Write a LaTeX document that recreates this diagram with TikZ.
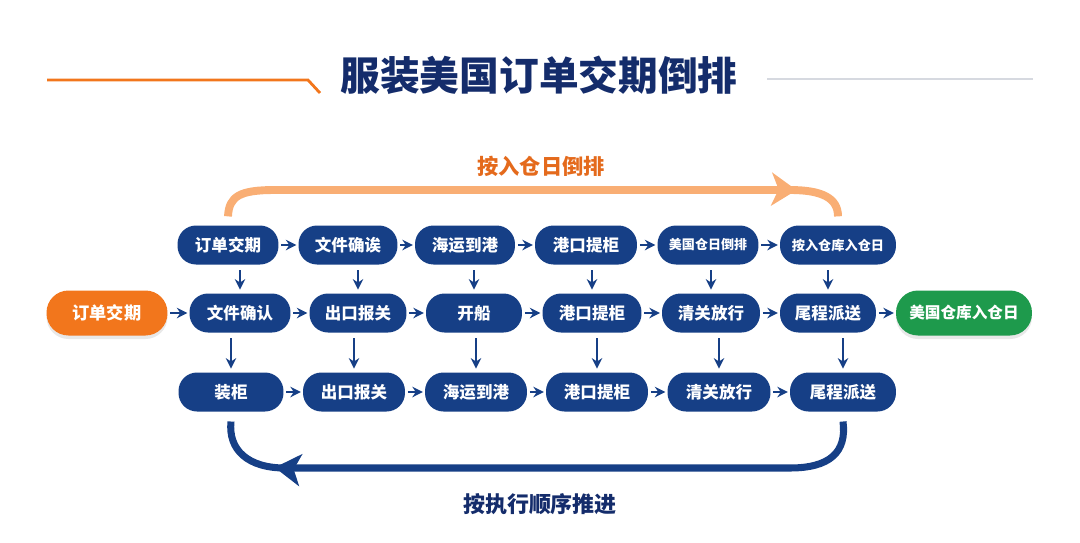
\documentclass[tikz,border=0pt]{standalone}
\usepackage{fontspec}
\setmainfont{Noto Sans CJK SC}
\newfontfamily\titlefont{Noto Sans CJK SC Black}
\usepackage{xcolor}
\usepackage{tikz}
\usetikzlibrary{arrows.meta, positioning, decorations.markings, shadows}

\definecolor{navy}{RGB}{22,63,134}
\definecolor{titlenavy}{RGB}{20,44,107}
\definecolor{boxorange}{RGB}{242,118,28}
\definecolor{boxgreen}{RGB}{30,154,76}
\definecolor{floworange}{RGB}{249,174,116}
\definecolor{labelorange}{RGB}{228,106,28}
\definecolor{linegray}{RGB}{214,217,224}

\begin{document}
\begin{tikzpicture}[x=0.02cm, y=-0.02cm,
    box/.style={fill=navy, text=white, rounded corners=0.37cm, minimum height=0.78cm,
        inner sep=0pt, font=\fontsize{9.4}{10}\selectfont\bfseries},
    endbox/.style={text=white, rounded corners=0.44cm, minimum height=0.9cm, inner sep=0pt,
        drop shadow={opacity=0.18, shadow xshift=0pt, shadow yshift=-2pt}},
    harr/.style={-{Stealth[length=6pt,width=6pt]}, line width=1.2pt, draw=navy,
        shorten <=1.5pt, shorten >=1pt},
    varr/.style={-{Stealth[length=6pt,width=6pt]}, line width=1.2pt, draw=navy,
        shorten <=3pt, shorten >=2pt}]
    \useasboundingbox (0,0) rectangle (1080,542);

    % 标题
    \node[text=titlenavy, font=\fontsize{22.6}{26}\titlefont] (title) at (539,75) {服装美国订单交期倒排};
    \draw[boxorange, line width=1.6pt] (47,80) -- (308,80) -- (320,93);
    \draw[linegray, line width=1.6pt] (767,79) -- (1033,79);

    % 倒排
    \node[box, minimum width=2.02cm] (t1) at (228,245) {订单交期};
    \node[box, minimum width=1.98cm] (t2) at (348,245) {文件确诶};
    \node[box, minimum width=2.00cm] (t3) at (465,245) {海运到港};
    \node[box, minimum width=2.04cm] (t4) at (586,245) {港口提柜};
    \node[box, minimum width=2.02cm, font=\fontsize{7.4}{9}\selectfont\bfseries] (t5) at (708,245) {美国仓日倒排};
    \node[box, minimum width=2.32cm, font=\fontsize{7.5}{9}\selectfont\bfseries] (t6) at (838,245) {按入仓库入仓日};

    % 主线
    \node[endbox, fill=boxorange, minimum width=2.42cm, font=\fontsize{9.8}{11}\selectfont\bfseries] (start) at (107,313) {订单交期};
    \node[box, minimum width=2.02cm] (m1) at (240,313) {文件确认};
    \node[box, minimum width=1.94cm] (m2) at (358,313) {出口报关};
    \node[box, minimum width=1.92cm] (m3) at (474,313) {开船};
    \node[box, minimum width=1.98cm] (m4) at (592,313) {港口提柜};
    \node[box, minimum width=1.96cm] (m5) at (711,313) {清关放行};
    \node[box, minimum width=1.92cm] (m6) at (828,313) {尾程派送};
    \node[endbox, fill=boxgreen, minimum width=2.72cm, font=\fontsize{8.9}{10}\selectfont\bfseries] (goal) at (964,313) {美国仓库入仓日};

    % 顺排
    \node[box, minimum width=2.10cm] (b1) at (231,392) {装柜};
    \node[box, minimum width=2.04cm] (b2) at (354,392) {出口报关};
    \node[box, minimum width=2.04cm] (b3) at (476,392) {海运到港};
    \node[box, minimum width=2.04cm] (b4) at (597,392) {港口提柜};
    \node[box, minimum width=2.06cm] (b5) at (719,392) {清关放行};
    \node[box, minimum width=2.12cm] (b6) at (843,392) {尾程派送};

    \foreach \a/\b in {t1/t2,t2/t3,t3/t4,t4/t5,t5/t6,
        start/m1,m1/m2,m2/m3,m3/m4,m4/m5,m5/m6,m6/goal,
        b1/b2,b2/b3,b3/b4,b4/b5,b5/b6}
        \draw[harr] (\a) -- (\b);
    \foreach \a/\b in {t1/m1,t2/m2,t3/m3,t4/m4,t5/m5,t6/m6,
        m1/b1,m2/b2,m3/b3,m4/b4,m5/b5,m6/b6}
        \draw[varr] (\a.south -| \b.north) -- (\b.north);

    % 大箭头
    \node[text=labelorange, font=\fontsize{12.1}{14}\selectfont\bfseries] (uplabel) at (541,166) {按入仓日倒排};
    \draw[floworange, line width=4.5pt,
        postaction={decorate, decoration={markings, mark=at position -1.1cm with
            {\arrow[floworange]{Stealth[length=0.5cm, width=0.66cm, inset=0.14cm]}}}}]
        ([yshift=5pt]t1.north) .. controls (229,196) and (240,190) .. (275,190) -- (790,190)
        .. controls (822,190) and (838,198) .. ([yshift=5pt]t6.north);

    \node[text=titlenavy, font=\fontsize{12.5}{14}\selectfont\bfseries] (downlabel) at (540,504) {按执行顺序推进};
    \draw[navy, line width=4pt,
        postaction={decorate, decoration={markings, mark=at position -1.44cm with
            {\arrow[navy]{Stealth[length=0.52cm, width=0.64cm, inset=0.14cm]}}}}]
        ([yshift=-5.5pt]b6.south) .. controls (847,452) and (830,468) .. (790,468) -- (285,468)
        .. controls (248,468) and (228,450) .. ([yshift=-5.5pt]b1.south);
\end{tikzpicture}
\end{document}
